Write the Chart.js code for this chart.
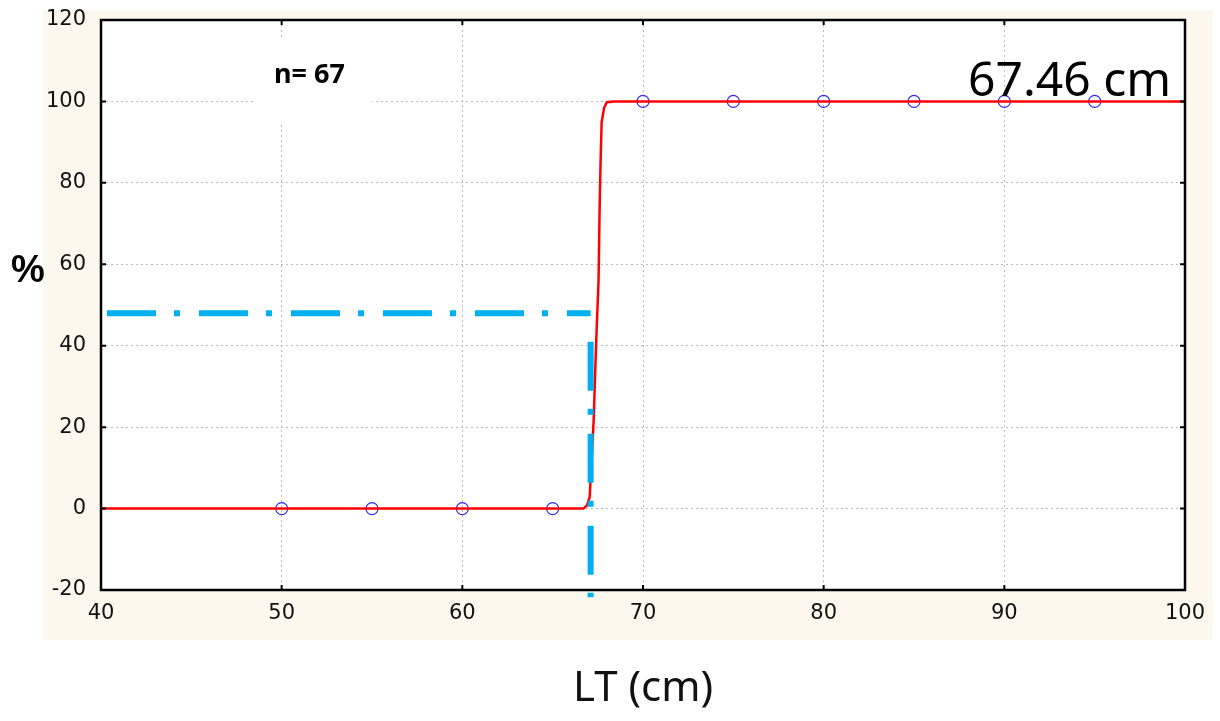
<!DOCTYPE html>
<html>
<head>
<meta charset="utf-8">
<script src="https://cdn.jsdelivr.net/npm/chart.js@4.4.1/dist/chart.umd.min.js"></script>
<style>
  html, body { margin: 0; padding: 0; background: #ffffff; }
  #wrap { width: 1220px; height: 721px; position: relative; }
</style>
</head>
<body>
<div id="wrap"><canvas id="lt50"></canvas></div>
<script>
// observed proportions (blue circles)
const obsLength = [50, 55, 60, 65, 70, 75, 80, 85, 90, 95];
const obsPercent = [0, 0, 0, 0, 100, 100, 100, 100, 100, 100];

// fitted logistic curve (red)
const fitLength = [40, 66.7, 66.9, 67.05, 67.27, 67.4, 67.54, 67.6, 67.65, 67.71, 67.85, 68.0, 68.37, 100];
const fitPercent = [0, 0, 0.8, 2.9, 21.8, 40, 56, 74, 84.8, 94.9, 98.5, 99.8, 100, 100];

// dash-dot guide lines for L50
const guideHX = [40.33, 67.1];
const guideHY = [48, 48];
const guideVX = [67.1, 67.1];
const guideVY = [41, -21.8];

const xTicks = [40, 50, 60, 70, 80, 90, 100];
const yTicks = [-20, 0, 20, 40, 60, 80, 100, 120];

const sampleText = "n= 67";
const l50Text = "67.46 cm";
const xTitle = "LT (cm)";
const yTitle = "%";

const toPoints = (xs, ys) => xs.map((x, i) => ({ x: x, y: ys[i] }));

//background panel, frame, inner ticks and text labels
const decorPlugin = {
    id: 'decor',
    beforeDraw: (chart) => {
        const ctx = chart.ctx;
        const a = chart.chartArea;
        ctx.save();
        ctx.fillStyle = '#ffffff';
        ctx.fillRect(0, 0, chart.width, chart.height);
        ctx.fillStyle = '#FDF8EE';
        ctx.fillRect(43, 10, 1170, 630);
        ctx.fillStyle = '#ffffff';
        ctx.fillRect(a.left, a.top, a.right - a.left, a.bottom - a.top);
        ctx.restore();
    },
    beforeDatasetsDraw: (chart) => {
        const ctx = chart.ctx;
        ctx.save();
        // white box behind the sample size label
        ctx.fillStyle = '#ffffff';
        ctx.fillRect(255, 40, 117, 85);
        ctx.fillStyle = '#000000';
        ctx.font = 'bold 27px "Noto Sans"';
        ctx.textBaseline = 'alphabetic';
        ctx.fillText(sampleText, 274, 83);
        ctx.restore();
    },
    afterDraw: (chart) => {
        const ctx = chart.ctx;
        const a = chart.chartArea;
        const xs = chart.scales.x;
        const ys = chart.scales.y;
        ctx.save();
        ctx.strokeStyle = '#000000';
        ctx.lineWidth = 2.5;
        ctx.strokeRect(a.left, a.top, a.right - a.left, a.bottom - a.top);
        ctx.lineWidth = 2;
        ctx.beginPath();
        xTicks.forEach((v) => {
            const px = xs.getPixelForValue(v);
            ctx.moveTo(px, a.bottom); ctx.lineTo(px, a.bottom - 5);
            ctx.moveTo(px, a.top); ctx.lineTo(px, a.top + 5);
        });
        yTicks.forEach((v) => {
            const py = ys.getPixelForValue(v);
            ctx.moveTo(a.left, py); ctx.lineTo(a.left + 5, py);
            ctx.moveTo(a.right, py); ctx.lineTo(a.right - 5, py);
        });
        ctx.stroke();

        ctx.fillStyle = '#000000';
        ctx.font = '48px "Noto Sans"';
        ctx.textBaseline = 'alphabetic';
        ctx.fillText(l50Text, 968, 96);

        ctx.font = 'bold 38px "Liberation Sans"';
        ctx.textAlign = 'center';
        ctx.textBaseline = 'middle';
        ctx.fillText(yTitle, 28, 272);
        ctx.restore();
    }
};

let ctx = document.getElementById('lt50').getContext('2d');
new Chart(ctx, {
    type: 'scatter',
    data: {
        datasets: [
            {
                label: 'observed',
                data: toPoints(obsLength, obsPercent),
                showLine: false,
                pointStyle: 'circle',
                pointRadius: 6,
                pointHoverRadius: 6,
                pointBorderWidth: 1.2,
                pointBorderColor: '#2B2BFF',
                pointBackgroundColor: 'rgba(0,0,0,0)',
                order: 3,
            },
            {
                label: 'fit',
                data: toPoints(fitLength, fitPercent),
                showLine: true,
                borderColor: '#FF0000',
                borderWidth: 2.5,
                pointRadius: 0,
                tension: 0,
                order: 2,
            },
            {
                label: 'L50 horizontal',
                data: toPoints(guideHX, guideHY),
                showLine: true,
                borderColor: '#00B0F0',
                borderWidth: 6,
                borderDash: [49, 18, 6, 19],
                borderCapStyle: 'butt',
                pointRadius: 0,
                order: 1,
            },
            {
                label: 'L50 vertical',
                data: toPoints(guideVX, guideVY),
                showLine: true,
                borderColor: '#00B0F0',
                borderWidth: 6,
                borderDash: [49, 18, 6, 19],
                borderCapStyle: 'butt',
                pointRadius: 0,
                clip: false,
                order: 1,
            },
        ]
    },
    plugins: [decorPlugin],
    options: {
        responsive: true,
        maintainAspectRatio: false,
        animation: false,
        events: [],
        layout: {
            padding: { top: 20, right: 35, bottom: 0, left: 0 }
        },
        plugins: {
            legend: { display: false },
            tooltip: { enabled: false },
        },
        scales: {
            x: {
                type: 'linear',
                min: 40,
                max: 100,
                afterFit: (scale) => { scale.height = 131; scale.paddingLeft = 0; scale.paddingRight = 0; },
                afterBuildTicks: (scale) => { scale.ticks = xTicks.map((v) => ({ value: v })); },
                ticks: {
                    padding: 11,
                    color: '#111111',
                    font: { family: 'DejaVu Sans', size: 21 },
                    maxRotation: 0,
                },
                grid: {
                    color: (c) => (c.tick && (c.tick.value === 40 || c.tick.value === 100)) ? 'rgba(0,0,0,0)' : '#BDBDBD',
                    lineWidth: 1,
                    drawTicks: false,
                },
                border: { display: false, dash: [2, 3] },
                title: {
                    display: true,
                    text: xTitle,
                    color: '#111111',
                    font: { family: 'Noto Sans', size: 42 },
                    padding: { top: 0, bottom: 7 },
                },
            },
            y: {
                type: 'linear',
                min: -20,
                max: 120,
                afterFit: (scale) => { scale.width = 101; scale.paddingTop = 0; scale.paddingBottom = 0; },
                afterBuildTicks: (scale) => { scale.ticks = yTicks.map((v) => ({ value: v })); },
                ticks: {
                    padding: 15,
                    color: '#111111',
                    font: { family: 'DejaVu Sans', size: 21 },
                },
                grid: {
                    color: (c) => (c.tick && (c.tick.value === -20 || c.tick.value === 120)) ? 'rgba(0,0,0,0)' : '#BDBDBD',
                    lineWidth: 1,
                    drawTicks: false,
                },
                border: { display: false, dash: [2, 3] },
            }
        }
    }
});
</script>
</body>
</html>
